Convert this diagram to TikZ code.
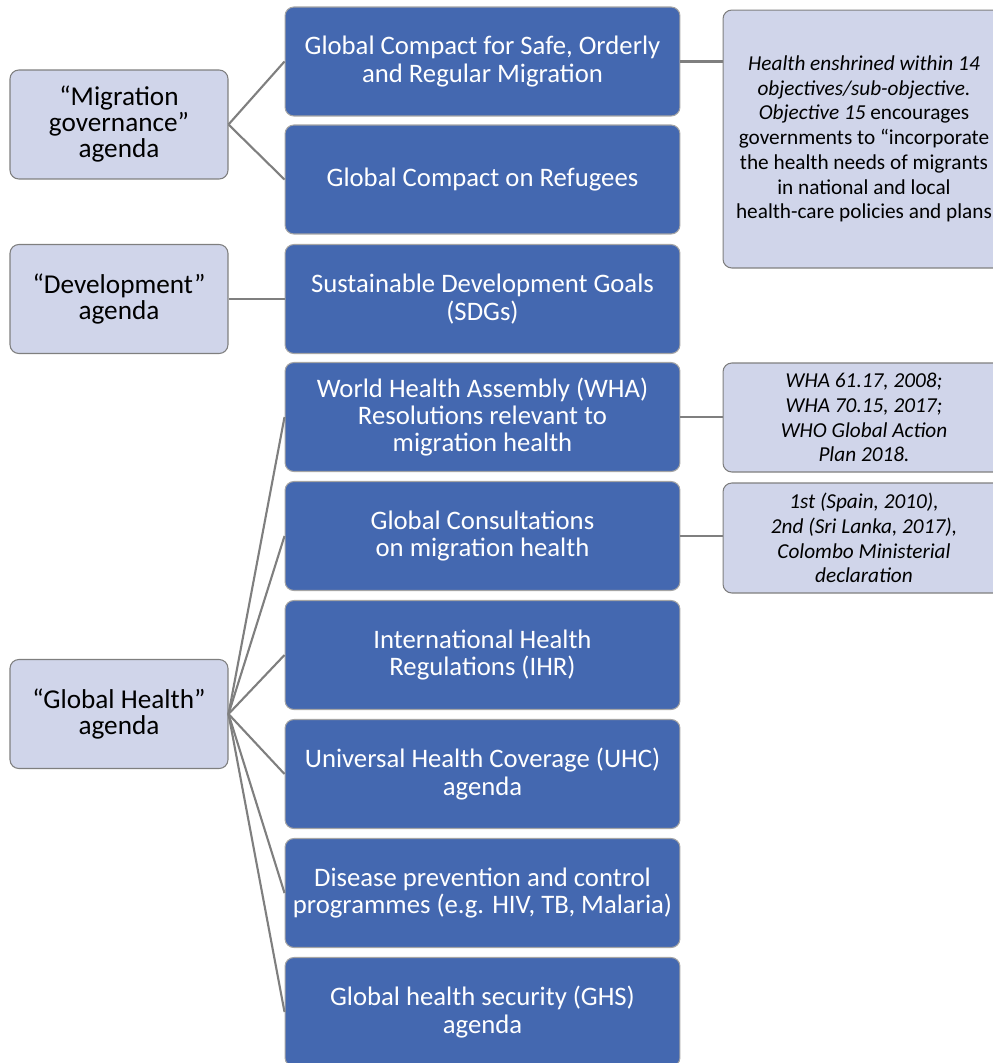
\documentclass[tikz,border=0pt]{standalone}
\usepackage{fontspec}
\setmainfont{Carlito}
\usepackage{xcolor}
\usetikzlibrary{positioning}
\definecolor{gblue}{HTML}{4468B0}
\definecolor{glav}{HTML}{D0D5EA}
\definecolor{gedge}{HTML}{7F7F7F}

\tikzset{
  agenda/.style={draw=gedge, fill=glav, rounded corners=5pt, line width=0.6pt,
    minimum width=4.36cm, minimum height=2.18cm, align=center,
    font=\fontsize{15.5}{14.8}\selectfont},
  instr/.style={draw=gedge!70, fill=gblue, text=white, rounded corners=5pt, line width=0.6pt,
    minimum width=7.9cm, minimum height=2.18cm, align=center,
    font=\fontsize{15.2}{15.6}\selectfont},
  note/.style={draw=gedge, fill=glav, rounded corners=5pt, line width=0.6pt,
    minimum width=5.64cm, align=center, font=\fontsize{12.1}{14.1}\selectfont},
  link/.style={draw=gedge, line width=1.2pt}
}

\begin{document}
\begin{tikzpicture}[x=0.02cm, y=-0.02cm]
\clip (0,0) rectangle (993,1063);

% agendas
\node[agenda] (mig) at (119,124.5) {“Migration\\governance”\\agenda};
\node[agenda] (dev) at (119,299) {“Development”\\agenda};
\node[agenda] (glh) at (119,714) {“Global Health”\\agenda};

% instruments
\node[instr] (gcm) at (482.5,61.5) {Global Compact for Safe, Orderly\\and Regular Migration};
\node[instr] (gcr) at (482.5,179.5) {Global Compact on Refugees};
\node[instr] (sdg) at (482.5,299) {Sustainable Development Goals\\(SDGs)};
\node[instr] (wha) at (482.5,417) {World Health Assembly (WHA)\\Resolutions relevant to\\migration health};
\node[instr] (cons) at (482.5,536) {Global Consultations\\on migration health};
\node[instr] (ihr) at (482.5,655) {International Health\\Regulations (IHR)};
\node[instr] (uhc) at (482.5,774) {Universal Health Coverage (UHC)\\agenda};
\node[instr] (dis) at (482.5,893) {Disease prevention and control\\programmes (e.g. HIV, TB, Malaria)};
\node[instr] (ghs) at (482.5,1012) {Global health security (GHS)\\agenda};

% notes
\node[note, minimum height=5.16cm] (gcmnote) at (864,139)
  {\textit{Health enshrined within 14}\\\textit{objectives/sub-objective.}\\\textit{Objective 15} encourages\\governments to “incorporate\\the health needs of migrants\\in national and local\\health-care policies and plans};
\node[note, minimum height=2.18cm, font=\fontsize{12.1}{14.1}\selectfont\itshape] (whanote) at (864,417.5)
  {WHA 61.17, 2008;\\WHA 70.15, 2017;\\WHO Global Action\\Plan 2018.};
\node[note, minimum height=2.2cm, font=\fontsize{12.1}{14.1}\selectfont\itshape] (consnote) at (864,538)
  {1st (Spain, 2010),\\2nd (Sri Lanka, 2017),\\Colombo Ministerial\\declaration};

% connectors
\draw[link] (mig.east) -- (gcm.west);
\draw[link] (mig.east) -- (gcr.west);
\draw[link] (dev.east) -- (sdg.west);
\draw[link] (glh.east) -- (wha.west);
\draw[link] (glh.east) -- (cons.west);
\draw[link] (glh.east) -- (ihr.west);
\draw[link] (glh.east) -- (uhc.west);
\draw[link] (glh.east) -- (dis.west);
\draw[link] (glh.east) -- (ghs.west);
\draw[link] (gcm.east) -- (gcm.east -| gcmnote.west);
\draw[link] (wha.east) -- (wha.east -| whanote.west);
\draw[link] (cons.east) -- (cons.east -| consnote.west);
\end{tikzpicture}
\end{document}
